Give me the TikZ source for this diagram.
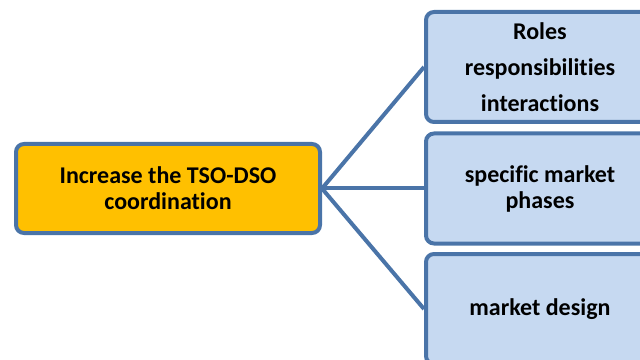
\documentclass[tikz,border=0pt]{standalone}
\usepackage{fontspec}
\setmainfont{Carlito}[Ligatures=NoCommon]
\begin{document}
\begin{tikzpicture}[x=0.75pt,y=-0.75pt,
  edgeblue/.style={line width=3pt,draw={rgb,255:red,74;green,116;blue,168}},
  mainbox/.style={edgeblue,rounded corners=6pt,fill={rgb,255:red,255;green,192;blue,0},
    minimum width=228pt,minimum height=66.75pt,inner sep=0pt,align=center,
    font=\fontsize{18pt}{19.5pt}\selectfont\bfseries},
  subbox/.style={edgeblue,rounded corners=6pt,fill={rgb,255:red,198;green,217;blue,241},
    minimum width=171pt,minimum height=82.5pt,inner sep=0pt,align=center,
    font=\fontsize{18pt}{19.5pt}\selectfont\bfseries},
  conn/.style={edgeblue}]
\useasboundingbox (0,0) rectangle (640,360);
\node[mainbox] (main) at (168,188.5) {Increase the TSO-DSO\\coordination};
\node[subbox] (roles) at (540,67) {Roles\\[7.5pt]responsibilities\\[7.5pt]interactions};
\node[subbox] (phases) at (540,188.5) {specific market\\phases};
\node[subbox] (design) at (540,309) {market design};
\draw[conn] (main.east) -- (roles.west);
\draw[conn] (main.east) -- (phases.west);
\draw[conn] (main.east) -- (design.west);
\end{tikzpicture}
\end{document}
